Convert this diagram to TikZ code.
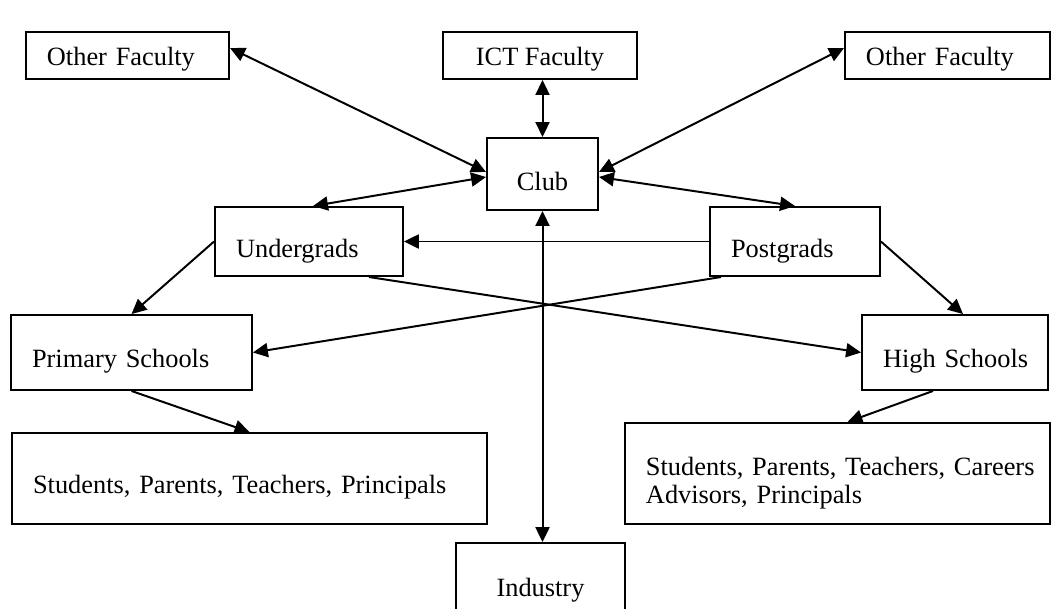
\documentclass[tikz,border=0pt]{standalone}
\usepackage{fontspec}
\setmainfont{Liberation Serif}
\usetikzlibrary{arrows.meta,calc}

\begin{document}
\begin{tikzpicture}[x=0.455pt,y=-0.455pt,
  font=\fontsize{12pt}{12.8pt}\selectfont,
  >={Triangle[length=6.8pt,width=6.4pt]},
  link/.style={line width=0.9pt},
  lbox/.style={draw,line width=0.9pt,align=left,inner xsep=9.55pt,inner ysep=0pt,text depth=0pt},
  cbox/.style={draw,line width=0.9pt,align=center,inner sep=0pt,text depth=0pt}]
\useasboundingbox (0,0) rectangle (1055,608);
\node[lbox,text width=73.3pt,minimum height=21.4pt,text height=9.2pt] (ofl) at (127.5,55.5){Other Faculty};
\node[cbox,minimum width=88.3pt,minimum height=21.4pt,text height=9.2pt] (ict) at (540,55.5){ICT Faculty};
\node[lbox,text width=74.2pt,minimum height=21.4pt,text height=9.2pt] (ofr) at (947.5,55.5){Other Faculty};
\node[cbox,minimum width=50.5pt,minimum height=32.8pt,text height=14.6pt] (club) at (542.5,174){Club};
\node[lbox,text width=66.4pt,minimum height=31.4pt,text height=15pt] (ug) at (309,241.5){Undergrads};
\node[lbox,text width=58.2pt,minimum height=31.4pt,text height=15pt] (pg) at (795,241.5){Postgrads};
\node[lbox,text width=90.5pt,minimum height=34.1pt,text height=13.2pt] (ps) at (131.5,352.5){Primary Schools};
\node[lbox,text width=65.5pt,minimum height=34.1pt,text height=13.2pt] (hs) at (955,352.5){\mbox{High Schools}};
\node[lbox,text width=197pt,minimum height=41.4pt,text height=13.2pt] (stl) at (249.5,478.5){Students, Parents, Teachers, Principals};
\node[lbox,text width=174.3pt,minimum height=46pt,text height=14.2pt,text depth=12.8pt] (str) at (837.5,473.5){\mbox{Students, Parents, Teachers, Careers}\\Advisors, Principals};
\node[cbox,minimum width=76.9pt,minimum height=36.4pt,text height=12.7pt] (ind) at (540.5,583){Industry};
\draw[link,<->] ($(club.west)+(0,-2)$) -- ($(ofl.east)+(0,-7.5)$);
\draw[link,<->] ($(club.west)+(0,3)$) -- ($(ug.north)+(4,0)$);
\draw[link,<->] ($(club.east)+(0,-2)$) -- ($(ofr.west)+(0,-7.5)$);
\draw[link,<->] ($(club.east)+(0,3)$) -- (pg.north);
\draw[link,<->] (club.north) -- (club.north |- ict.south);
\draw[link,<->] (club.south) -- (club.south |- ind.north);
\draw[link,->] (pg.west) -- (ug.east);
\draw[link,->] (ug.west) -- (ps.north);
\draw[link,->] (pg.east) -- ($(hs.north)+(8,0)$);
\draw[link,->] ($(pg.south west)+(12,0)$) -- (ps.east);
\draw[link,->] ($(ug.south east)+(-35,0)$) -- (hs.west);
\draw[link,->] (ps.south) -- (stl.north);
\draw[link,->] ($(hs.south)+(-22,0)$) -- ($(str.north)+(10,0)$);
\end{tikzpicture}
\end{document}
